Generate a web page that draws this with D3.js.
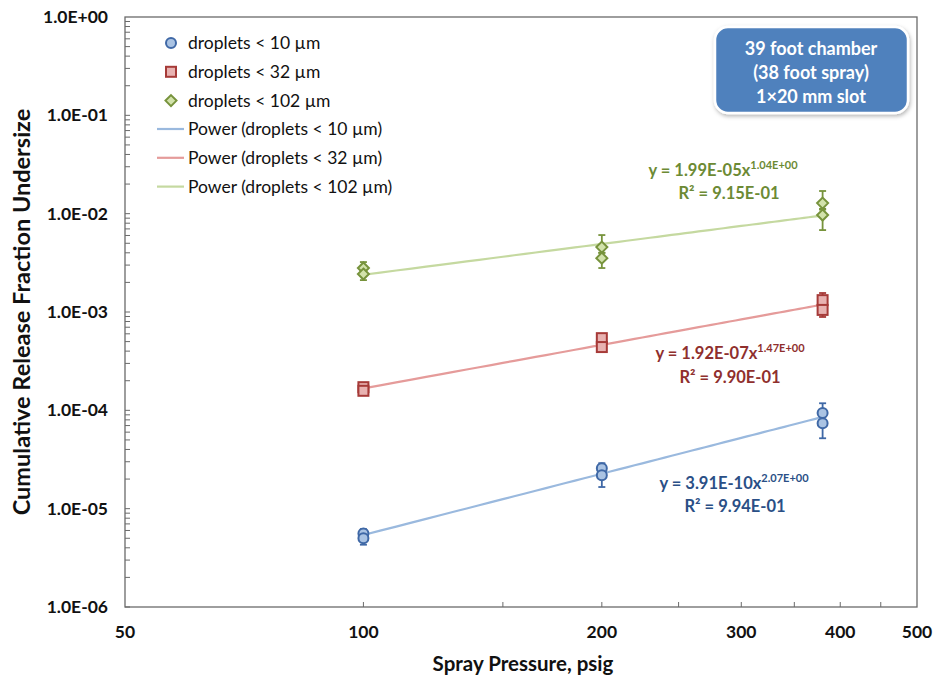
<!DOCTYPE html>
<html><head><meta charset="utf-8">
<script src="https://cdn.jsdelivr.net/npm/d3@7/dist/d3.min.js"></script>
<style>
body{margin:0;background:#fff;}
text{font-family:Lato,"Open Sans",sans-serif;}
</style></head>
<body><svg id="c" width="933" height="677"></svg>
<script>
// ---- data ----
const pressures = [100, 100, 200, 200, 380, 380];
const series = ["droplets < 10 µm", "droplets < 32 µm", "droplets < 102 µm"];
const vals10  = [5.6e-6, 5.0e-6, 2.58e-5, 2.19e-5, 9.37e-5, 7.41e-5];
const lo10    = [5.0e-6, 4.3e-6, 2.25e-5, 1.66e-5, 7.8e-5, 5.2e-5];
const hi10    = [6.2e-6, 5.6e-6, 2.90e-5, 2.5e-5, 1.18e-4, 9.0e-5];
const vals32  = [1.72e-4, 1.58e-4, 5.42e-4, 4.40e-4, 1.32e-3, 1.05e-3];
const lo32    = [1.62e-4, 1.47e-4, 5.0e-4, 4.1e-4, 1.2e-3, 8.9e-4];
const hi32    = [1.82e-4, 1.68e-4, 5.8e-4, 4.8e-4, 1.56e-3, 1.15e-3];
const vals102 = [2.80e-3, 2.43e-3, 4.57e-3, 3.53e-3, 1.28e-2, 9.68e-3];
const lo102   = [2.55e-3, 2.11e-3, 4.0e-3, 2.80e-3, 1.12e-2, 6.81e-3];
const hi102   = [3.22e-3, 2.70e-3, 6.06e-3, 4.0e-3, 1.70e-2, 1.10e-2];
const fitA = [3.91e-10, 1.92e-7, 1.99e-5];
const fitB = [2.07, 1.47, 1.04];
const eqText = ["3.91E-10x", "1.92E-07x", "1.99E-05x"];
const eqExp = ["2.07E+00", "1.47E+00", "1.04E+00"];
const r2Text = ["R² = 9.94E-01", "R² = 9.90E-01", "R² = 9.15E-01"];
const xTickLabels = [50, 100, 200, 300, 400, 500];
const xTickMarks = [100, 150, 200, 250, 300, 350, 400, 450];
const yTickLabels = ["1.0E+00","1.0E-01","1.0E-02","1.0E-03","1.0E-04","1.0E-05","1.0E-06"];
const boxLines = ["39 foot chamber", "(38 foot spray)", "1×20 mm slot"];

// ---- layout ----
const L = 125, R = 917, T = 17, B = 607;
const svg = d3.select("#c");
const x = d3.scaleLog().domain([50, 500]).range([L, R]);
const y = d3.scaleLog().domain([1e-6, 1]).range([B, T]);

const strokeC = ["#3f68a6", "#a63a38", "#77933c"];
const fillC = ["#aac3e3", "#e8b2b1", "#d2e2ab"];
const lineC = ["#9ab9de", "#e59b9a", "#c5d9a0"];
const eqC = ["#2a4f86", "#8f2f2d", "#6c8a34"];
const axisC = "#6a6a6a";

// minor y ticks (inside)
const yMinor = [];
for (let e = -6; e < 0; e++) for (let m = 1; m < 10; m++) yMinor.push(m * Math.pow(10, e));
svg.append("g").selectAll("line").data(yMinor).join("line")
  .attr("x1", L).attr("x2", L + 5)
  .attr("y1", d => y(d)).attr("y2", d => y(d))
  .attr("stroke", axisC).attr("stroke-width", 1);
// x ticks inside
svg.append("g").selectAll("line").data(xTickMarks).join("line")
  .attr("x1", d => x(d)).attr("x2", d => x(d))
  .attr("y1", B).attr("y2", B - 5)
  .attr("stroke", axisC).attr("stroke-width", 1);
// frame
svg.append("rect").attr("x", L).attr("y", T).attr("width", R - L).attr("height", B - T)
  .attr("fill", "none").attr("stroke", axisC).attr("stroke-width", 1.3);

// y labels
svg.append("g").selectAll("text").data(yTickLabels).join("text")
  .attr("x", 108).attr("y", (d, i) => y(Math.pow(10, -i)) + 6)
  .attr("text-anchor", "end").attr("font-size", 17.5).attr("font-weight", "bold")
  .attr("fill", "#111").text(d => d);
// x labels
svg.append("g").selectAll("text").data(xTickLabels).join("text")
  .attr("x", d => x(d)).attr("y", 638)
  .attr("text-anchor", "middle").attr("font-size", 17.5).attr("font-weight", "bold")
  .attr("fill", "#111").text(d => d);
// axis titles
svg.append("text").attr("x", 523).attr("y", 671).attr("text-anchor", "middle")
  .attr("font-size", 20.5).attr("font-weight", "bold").attr("fill", "#111")
  .text("Spray Pressure, psig");
svg.append("text").attr("transform", "translate(30,312) rotate(-90)").attr("text-anchor", "middle")
  .attr("font-size", 23.5).attr("font-weight", "bold").attr("fill", "#111")
  .text("Cumulative Release Fraction Undersize");

// trend lines
const xs = d3.range(100, 381, 5);
[0,1,2].forEach(k => {
  const pts = xs.map(p => [x(p), y(fitA[k] * Math.pow(p, fitB[k]))]);
  svg.append("path").attr("d", d3.line()(pts)).attr("fill", "none")
    .attr("stroke", lineC[k]).attr("stroke-width", 2.2);
});

const allVals = [vals10, vals32, vals102];
const allLo = [lo10, lo32, lo102];
const allHi = [hi10, hi32, hi102];

function marker(g, k, cx, cy) {
  if (k === 0) {
    g.append("circle").attr("cx", cx).attr("cy", cy).attr("r", 5)
      .attr("fill", fillC[0]).attr("stroke", strokeC[0]).attr("stroke-width", 2);
  } else if (k === 1) {
    g.append("rect").attr("x", cx - 5).attr("y", cy - 5).attr("width", 10).attr("height", 10)
      .attr("fill", fillC[1]).attr("stroke", strokeC[1]).attr("stroke-width", 2);
  } else {
    g.append("path").attr("d", `M${cx},${cy-5.5}L${cx+5.5},${cy}L${cx},${cy+5.5}L${cx-5.5},${cy}Z`)
      .attr("fill", fillC[2]).attr("stroke", strokeC[2]).attr("stroke-width", 2);
  }
}

[0,1,2].forEach(k => {
  const g = svg.append("g");
  pressures.forEach((p, i) => {
    const cx = x(p);
    const yl = y(allLo[k][i]), yh = y(allHi[k][i]);
    g.append("line").attr("x1", cx).attr("x2", cx).attr("y1", yl).attr("y2", yh)
      .attr("stroke", strokeC[k]).attr("stroke-width", 1.8);
    [yl, yh].forEach(yy => g.append("line").attr("x1", cx - 3.5).attr("x2", cx + 3.5)
      .attr("y1", yy).attr("y2", yy).attr("stroke", strokeC[k]).attr("stroke-width", 1.8));
  });
  pressures.forEach((p, i) => marker(g, k, x(p), y(allVals[k][i])));
});

// equations
const eqPos = [[734, 489, 735, 512], [730, 359, 730, 383], [723, 176, 729, 199]];
[0,1,2].forEach(k => {
  const t = svg.append("text").attr("x", eqPos[k][0]).attr("y", eqPos[k][1])
    .attr("text-anchor", "middle").attr("font-size", 16.5).attr("font-weight", "bold").attr("fill", eqC[k]);
  t.append("tspan").text("y = " + eqText[k]);
  t.append("tspan").attr("dy", -7).attr("font-size", 11).text(eqExp[k]);
  svg.append("text").attr("x", eqPos[k][2]).attr("y", eqPos[k][3])
    .attr("text-anchor", "middle").attr("font-size", 16.5).attr("font-weight", "bold").attr("fill", eqC[k])
    .text(r2Text[k]);
});

// legend
const leg = svg.append("g");
[0,1,2].forEach(k => {
  const yy = 43 + k * 28.8;
  marker(leg, k, 171, yy);
  leg.append("text").attr("x", 188).attr("y", yy + 6).attr("font-size", 17.5).attr("fill", "#111")
    .text(series[k]);
});
[0,1,2].forEach(k => {
  const yy = 129 + k * 28.8;
  leg.append("line").attr("x1", 157).attr("x2", 184).attr("y1", yy).attr("y2", yy)
    .attr("stroke", lineC[k]).attr("stroke-width", 2.2);
  leg.append("text").attr("x", 188).attr("y", yy + 6).attr("font-size", 17.5).attr("fill", "#111")
    .text("Power (" + series[k] + ")");
});

// annotation box
const defs = svg.append("defs");
const f = defs.append("filter").attr("id", "sh").attr("x", "-20%").attr("y", "-20%").attr("width", "140%").attr("height", "140%");
f.append("feDropShadow").attr("dx", 1).attr("dy", 2).attr("stdDeviation", 2).attr("flood-color", "#000").attr("flood-opacity", 0.3);
svg.append("rect").attr("x", 715).attr("y", 27).attr("width", 193).attr("height", 86)
  .attr("rx", 13).attr("fill", "#4f81bd").attr("stroke", "#fff").attr("stroke-width", 2.5)
  .attr("filter", "url(#sh)");
svg.append("g").selectAll("text").data(boxLines).join("text")
  .attr("x", 811).attr("y", (d, i) => 55 + i * 24).attr("text-anchor", "middle")
  .attr("font-size", 18).attr("font-weight", "bold").attr("fill", "#fff").text(d => d);
</script></body></html>
